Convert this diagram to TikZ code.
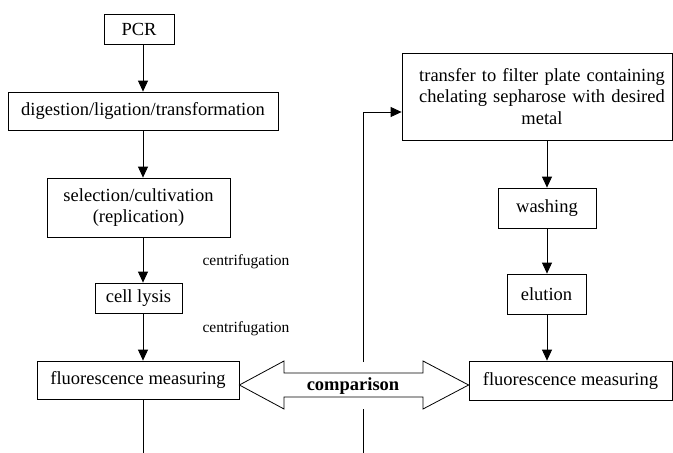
\documentclass[tikz,border=0pt]{standalone}
\usepackage{fontspec}
\setmainfont{Liberation Serif}
\usetikzlibrary{arrows.meta}
\begin{document}
\begin{tikzpicture}[x=1pt,y=-1pt,
  box/.style={draw,line width=0.8pt,inner sep=0pt,align=center,
    font=\fontsize{18.5}{21.5}\selectfont},
  lbl/.style={inner sep=0pt,font=\fontsize{15.5}{18}\selectfont},
  flow/.style={line width=0.8pt,-{Triangle[length=11pt,width=10pt]}},
  plain/.style={line width=0.8pt}]
\useasboundingbox (0,0) rectangle (673,453);
% left column
\node[box,minimum width=70pt,minimum height=30pt] (pcr) at (139,29) {PCR};
\node[box,minimum width=270pt,minimum height=38pt] (dig) at (143,111) {digestion/ligation/transformation};
\node[box,minimum width=183pt,minimum height=59pt] (sel) at (138.5,207.5) {selection/cultivation\\(replication)};
\node[box,minimum width=87pt,minimum height=30pt] (lys) at (138.5,298) {cell lysis};
\node[box,minimum width=202pt,minimum height=38pt] (flL) at (138,380) {fluorescence measuring};
\node[lbl] (c1) at (246,262) {centrifugation};
\node[lbl] (c2) at (246,329) {centrifugation};
\coordinate (colL) at (143,0);
\coordinate (botL) at (143,453);
\draw[flow] (pcr.south -| colL) -- (dig.north -| colL);
\draw[flow] (dig.south -| colL) -- (sel.north -| colL);
\draw[flow] (sel.south -| colL) -- (lys.north -| colL);
\draw[flow] (lys.south -| colL) -- (flL.north -| colL);
\draw[plain] (flL.south -| colL) -- (botL);
% right column
\node[box,minimum width=270pt,minimum height=87pt,text width=262pt] (top) at (537,96.5) {\hspace*{10pt}transfer to filter plate containing\\\hspace*{10pt}chelating sepharose with desired\\\hspace*{10pt}metal};
\node[box,minimum width=98pt,minimum height=40pt] (wash) at (547,208) {washing};
\node[box,minimum width=79pt,minimum height=40pt] (elu) at (546.5,294) {elution};
\node[box,minimum width=203pt,minimum height=39pt] (flR) at (570.5,380.5) {fluorescence measuring};
\coordinate (colR) at (547,0);
\draw[flow] (top.south -| colR) -- (wash.north -| colR);
\draw[flow] (wash.south -| colR) -- (elu.north -| colR);
\draw[flow] (elu.south -| colR) -- (flR.north -| colR);
% feedback line
\coordinate (loopB) at (363,453);
\coordinate (loopG1) at (363,409);
\coordinate (loopG2) at (363,362);
\coordinate (loopT) at (363,112);
\draw[plain] (loopB) -- (loopG1);
\draw[flow] (loopG2) -- (loopT) -- (top.west |- loopT);
% comparison double arrow
\draw[line width=0.8pt,fill=white] (flL.east |- 0,385) -- (284,361) -- (284,373) -- (423,373) -- (423,361)
  -- (flR.west |- 0,385) -- (423,409) -- (423,397) -- (284,397) -- (284,409) -- cycle;
\node[inner sep=0pt,font=\fontsize{18.5}{21.5}\selectfont\bfseries] (cmp) at (353,386) {comparison};
\end{tikzpicture}
\end{document}
